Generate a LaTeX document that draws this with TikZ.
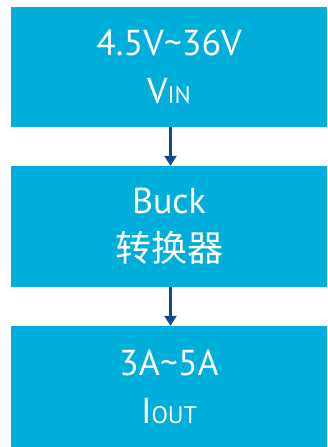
\documentclass[tikz,border=0pt]{standalone}
\usepackage{fontspec}
\setmainfont{PT Sans}
\newfontfamily\cjk{Noto Sans CJK SC}
\usetikzlibrary{arrows.meta}
\definecolor{boxblue}{HTML}{00AEDC}
\definecolor{arrowblue}{HTML}{104B8A}
\newcommand{\subcap}[1]{{\fontsize{24}{24}\selectfont #1}}

\begin{document}
\begin{tikzpicture}[x=1pt, y=-1pt,
  blockbox/.style={fill=boxblue, text=white, minimum width=316pt, minimum height=121pt,
    inner sep=0pt, align=center, font=\fontsize{36}{48}\selectfont},
  flowarrow/.style={draw=arrowblue, line width=3pt, -{Triangle[length=10pt, width=12pt]}}]
% Background
\useasboundingbox[fill=white] (0, 0) rectangle (327, 447);

% Boxes
\node[blockbox, minimum height=120pt] (vin) at (169, 67) {4.5V\char`~36V\\V\subcap{IN}};
\node[blockbox] (buck) at (169, 226.5) {Buck\\{\cjk 转换器}};
\node[blockbox] (iout) at (169, 386.5) {3A\char`~5A\\I\subcap{OUT}};

% Arrows
\draw[flowarrow] ([xshift=1.5pt]vin.south) -- ([xshift=1.5pt]buck.north);
\draw[flowarrow] ([xshift=1.5pt]buck.south) -- ([xshift=1.5pt]iout.north);
\end{tikzpicture}
\end{document}
